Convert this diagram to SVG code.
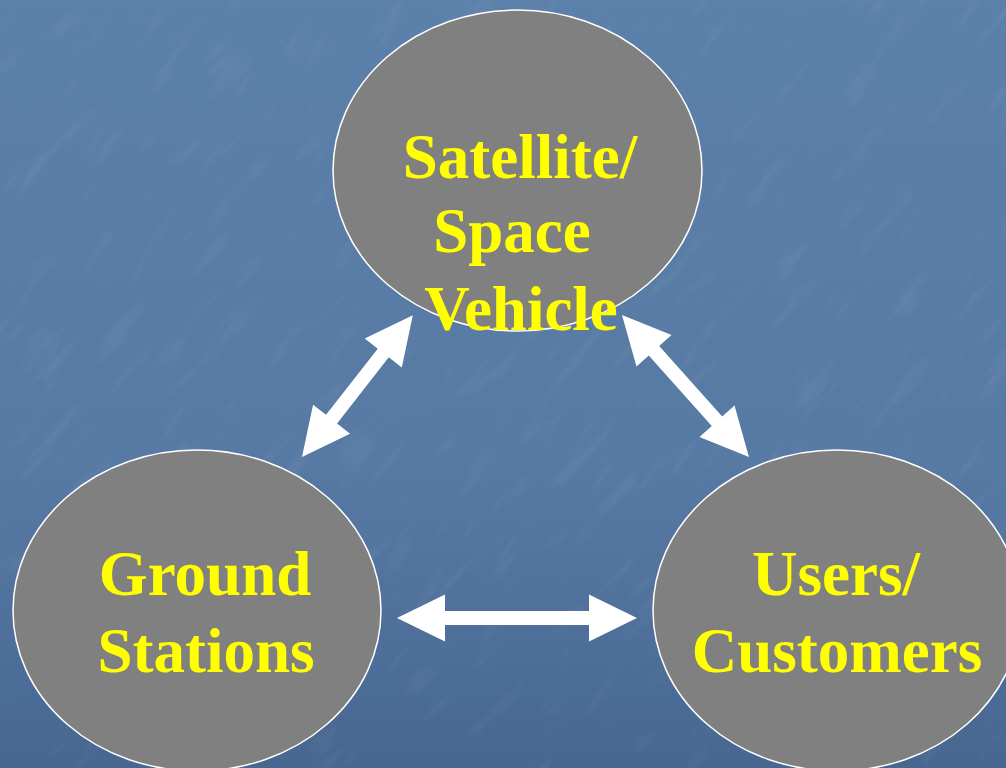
<svg xmlns="http://www.w3.org/2000/svg" width="1006" height="768" viewBox="0 0 1006 768">
  <defs>
    <linearGradient id="bg" x1="0" y1="0" x2="0" y2="1">
      <stop offset="0" stop-color="#5b80a9"/>
      <stop offset="0.6" stop-color="#577aa4"/>
      <stop offset="1" stop-color="#476791"/>
    </linearGradient>
    <filter id="tex" x="0" y="0" width="100%" height="100%">
      <feTurbulence type="fractalNoise" baseFrequency="0.015 0.06" numOctaves="3" seed="4" result="n"/>
      <feColorMatrix in="n" type="matrix" values="0 0 0 0 1  0 0 0 0 1  0 0 0 0 1  1.4 0 0 0 -0.8" result="w"/>
      <feComposite in="w" in2="SourceGraphic" operator="in"/>
    </filter>
    <style>
      .node { fill: #808080; stroke: #ffffff; stroke-width: 1.5; }
      .lbl { font-family: "Liberation Serif", "Times New Roman", serif; font-weight: bold; font-size: 63px; fill: #ffff00; text-anchor: middle; }
      .arrow { fill: #ffffff; }
    </style>
  </defs>
  <rect width="1006" height="768" fill="url(#bg)"/>
  <g opacity="0.12" transform="rotate(-50 503 384)">
    <rect x="-400" y="-400" width="1806" height="1568" fill="#ffffff" filter="url(#tex)"/>
  </g>

  <g id="connectors">
    <polygon class="arrow" transform="translate(302 457) rotate(-52)" points="0,0 48,-23.5 48,-7 132,-7 132,-23.5 180,0 132,23.5 132,7 48,7 48,23.5"/>
    <polygon class="arrow" transform="translate(622 315) rotate(48.2)" points="0,0 48,-23.5 48,-7 142.5,-7 142.5,-23.5 190.5,0 142.5,23.5 142.5,7 48,7 48,23.5"/>
    <polygon class="arrow" transform="translate(397 618)" points="0,0 48,-23.5 48,-7 192,-7 192,-23.5 240,0 192,23.5 192,7 48,7 48,23.5"/>
  </g>

  <g id="satellite">
    <ellipse class="node" cx="517.5" cy="170.5" rx="184.5" ry="160.5"/>
    <text class="lbl" x="520" y="178">Satellite/</text>
    <text class="lbl" x="512" y="252">Space</text>
    <text class="lbl" x="521" y="330">Vehicle</text>
  </g>

  <g id="ground">
    <ellipse class="node" cx="197" cy="610.5" rx="184" ry="160.5"/>
    <text class="lbl" x="205" y="595">Ground</text>
    <text class="lbl" x="206" y="672">Stations</text>
  </g>

  <g id="users">
    <ellipse class="node" cx="837" cy="610.5" rx="184" ry="160.5"/>
    <text class="lbl" x="836" y="595">Users/</text>
    <text class="lbl" x="837" y="672">Customers</text>
  </g>
</svg>
